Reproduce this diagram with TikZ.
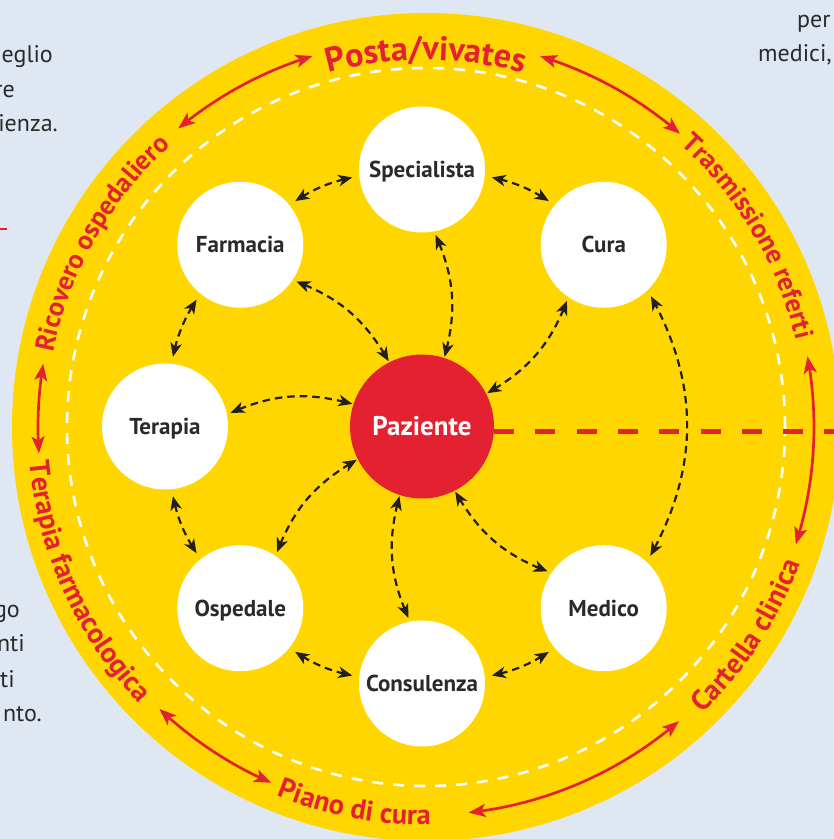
\documentclass[tikz,border=0pt]{standalone}
\usepackage{fontspec}
\setmainfont{PT Sans}
\usetikzlibrary{arrows.meta,bending,decorations.text}
\definecolor{bg}{HTML}{DFE7F2}
\definecolor{yel}{HTML}{FFD600}
\definecolor{labred}{HTML}{E42131}
\definecolor{ink}{HTML}{231F20}
\definecolor{txt}{HTML}{2B2A2A}
\newcommand\poststyle{\fontsize{34}{34}\selectfont\bfseries\color{labred}}
\newcommand\topringstyle{\fontsize{27}{27}\selectfont\bfseries\color{labred}}
\newcommand\botringstyle{\fontsize{28.5}{28.5}\selectfont\bfseries\color{labred}}
\tikzset{
  blktip/.tip={Stealth[length=14pt,width=11.5pt,inset=4pt]},
  redtip/.tip={Stealth[length=17pt,width=13pt,inset=4pt]},
  blk/.style={draw=ink, line width=2.2pt, dash pattern=on 7.5pt off 5pt, blktip-blktip},
  ringarr/.style={blk, shorten <=7pt, shorten >=7pt},
  spoke/.style={blk, shorten <=4pt, shorten >=1pt},
  redarr/.style={draw=labred, line width=2.7pt, redtip-redtip},
  sat/.style={circle, fill=white, minimum size=126pt, inner sep=0pt, text=txt,
    font=\fontsize{23}{23}\selectfont\bfseries, text height=16pt, text depth=0pt},
  pz/.style={circle, fill=labred, minimum size=144pt, inner sep=0pt, text=white,
    font=\fontsize{27}{27}\selectfont\bfseries, text height=19pt, text depth=0pt},
  bgtxt/.style={text=txt, font=\fontsize{24}{24}\selectfont, inner sep=0pt},
  reddash/.style={draw=labred, line width=5pt, dash pattern=on 20pt off 21.3pt},
}
\begin{document}
\begin{tikzpicture}[x=1pt,y=1pt]
\useasboundingbox (0,0) rectangle (834,839);
\clip (0,0) rectangle (834,839);
\fill[bg] (0,0) rectangle (834,839);
% background text fragments
\node[bgtxt, anchor=base east] (t1) at (53,776) {eglio};
\node[bgtxt, anchor=base east] (t2) at (15,741) {re};
\node[bgtxt, anchor=base east] (t3) at (58,707) {ienza.};
\node[bgtxt, anchor=base east] (t4) at (20,221) {go};
\node[bgtxt, anchor=base east] (t5) at (25,187) {nti};
\node[bgtxt, anchor=base east] (t6) at (15,151) {ti};
\node[bgtxt, anchor=base east] (t7) at (42,117) {nto.};
\node[bgtxt, anchor=base west] (t8) at (797,811) {per};
\node[bgtxt, anchor=base west] (t9) at (758,777) {medici,};
\draw[labred, line width=2.5pt] (0,610) -- (7,610);
% ring
\coordinate (OC) at (426,412);
\coordinate (O) at (422,412.5);
\fill[yel] (OC) circle[radius=414];
\draw[white, line width=2.6pt, dash pattern=on 11pt off 10pt] (OC) circle[radius=359];
% outer labels
\path[decorate, decoration={text along path, text align=center, text={|\poststyle|Posta/vivates}}]
  ([shift={(125:367)}]OC) arc[start angle=125, end angle=55, radius=367];
\path[decorate, decoration={text along path, text align=center, text={|\topringstyle|Ricovero ospedaliero}}]
  ([shift={(190.5:380)}]OC) arc[start angle=190.5, end angle=110.5, radius=380];
\path[decorate, decoration={text along path, text align=center, text={|\topringstyle|Trasmissione referti}}]
  ([shift={(70.6:380)}]OC) arc[start angle=70.6, end angle=-9.4, radius=380];
\path[decorate, decoration={text along path, text align=center, text={|\botringstyle|Cartella clinica}}]
  ([shift={(-73:398)}]OC) arc[start angle=-73, end angle=7, radius=398];
\path[decorate, decoration={text along path, text align=center, text={|\botringstyle|Piano di cura}}]
  ([shift={(-140.7:398)}]OC) arc[start angle=-140.7, end angle=-60.7, radius=398];
\path[decorate, decoration={text along path, text align=center, text={|\botringstyle|Terapia farmacologica}}]
  ([shift={(-195.5:398)}]OC) arc[start angle=-195.5, end angle=-115.5, radius=398];
% red arcs
\draw[redarr] ([shift={(129.7:388)}]OC) arc[start angle=129.7, end angle=107, radius=388];
\draw[redarr] ([shift={(72.9:388)}]OC) arc[start angle=72.9, end angle=49.1, radius=388];
\draw[redarr] ([shift={(10.5:388)}]OC) arc[start angle=10.5, end angle=-17.6, radius=388];
\draw[redarr] ([shift={(-49.3:388)}]OC) arc[start angle=-49.3, end angle=-83.7, radius=388];
\draw[redarr] ([shift={(-113.5:388)}]OC) arc[start angle=-113.5, end angle=-133.4, radius=388];
\draw[redarr] ([shift={(170.6:388)}]OC) arc[start angle=170.6, end angle=183.9, radius=388];
% nodes
\node[pz] (paz) at (O) {Paziente};
\node[sat] (spec) at ([shift={(90:257)}]O) {Specialista};
\node[sat] (farm) at ([shift={(135:257)}]O) {Farmacia};
\node[sat] (ter) at ([shift={(180:257)}]O) {Terapia};
\node[sat] (osp) at ([shift={(225:257)}]O) {Ospedale};
\node[sat] (cons) at ([shift={(270:257)}]O) {Consulenza};
\node[sat] (med) at ([shift={(315:257)}]O) {Medico};
\node[sat] (cura) at ([shift={(45:257)}]O) {Cura};
% red dashed line
\coordinate (redend) at (834,407);
\draw[reddash] (paz.-4.4) -- (paz.-4.4 -| redend);
% spokes
\draw[spoke] (spec.281) to[bend left=20] (paz.72);
\draw[spoke] (farm.326) to[bend left=20] (paz.117);
\draw[spoke] (ter.11) to[bend left=20] (paz.162);
\draw[spoke] (osp.56) to[bend left=20] (paz.207);
\draw[spoke] (cons.101) to[bend left=20] (paz.252);
\draw[spoke] (med.146) to[bend left=20] (paz.297);
\draw[spoke] (cura.236) to[bend left=20] (paz.27);
% ring arrows
\draw[ringarr] (cura.141) to[bend right=12] (spec.-6);
\draw[ringarr] (spec.186) to[bend right=12] (farm.39);
\draw[ringarr] (farm.231) to[bend right=12] (ter.84);
\draw[ringarr] (ter.276) to[bend right=12] (osp.129);
\draw[ringarr] (osp.321) to[bend right=12] (cons.174);
\draw[ringarr] (cons.6) to[bend right=12] (med.219);
\draw[ringarr] (med.47) to[bend right=30] (cura.-46);
\end{tikzpicture}
\end{document}
